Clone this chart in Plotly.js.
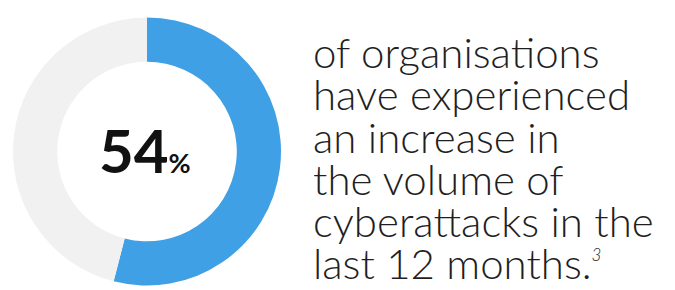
<!DOCTYPE html>
<html><head><meta charset="utf-8">
<script src="https://cdn.plot.ly/plotly-3.0.1.min.js"></script>
<style>html,body{margin:0;padding:0;background:#fff}</style>
</head><body>
<div id="chart" style="width:675px;height:290px"></div>
<script>
const sliceLabels = ["Experienced an increase", "Other"];
const sliceValues = [54, 46];
const headline = "54";
const textLines = [
  "of organisations",
  "have experienced",
  "an increase in",
  "the volume of",
  "cyberattacks in the",
  "last 12 months.<sup><span style='font-size:17px'><i>3</i></span></sup>"
];

const W = 675, H = 290;
const FS = 42;
const LH = 42;
const baselines = [68, 110.5, 153, 195.5, 237.5, 279.5];
const annotations = [{
  x: 145 / W, y: 1 - 150 / H, xref: "paper", yref: "paper",
  xanchor: "center", yanchor: "middle", showarrow: false,
  text: "<b>" + headline + "</b><span style='font-size:27px'><b>%</b></span>",
  font: {family: "Lato", size: 60, color: "#111111"}
}];
textLines.forEach((t, i) => {
  annotations.push({
    x: 312 / W, y: 1 - (baselines[i] + 0.213 * FS - LH / 2) / H, xref: "paper", yref: "paper",
    xanchor: "left", yanchor: "middle", showarrow: false,
    height: LH, valign: "bottom", borderpad: 0,
    text: t,
    font: {family: "Lato Light, Lato", size: FS, weight: 300, color: "#1f1f1f"}
  });
});

Plotly.newPlot("chart", [{
  type: "pie",
  labels: sliceLabels,
  values: sliceValues,
  sort: false,
  direction: "clockwise",
  rotation: 0,
  hole: 0.67,
  textinfo: "none",
  hoverinfo: "none",
  marker: {colors: ["#40A0E6", "#F1F1F1"], line: {width: 0}},
  domain: {x: [13 / W, 281 / W], y: [4 / H, 273 / H]}
}], {
  width: W, height: H,
  margin: {l: 0, r: 0, t: 0, b: 0},
  showlegend: false,
  paper_bgcolor: "#ffffff",
  annotations: annotations
}, {staticPlot: true, displayModeBar: false});
</script>
</body></html>
